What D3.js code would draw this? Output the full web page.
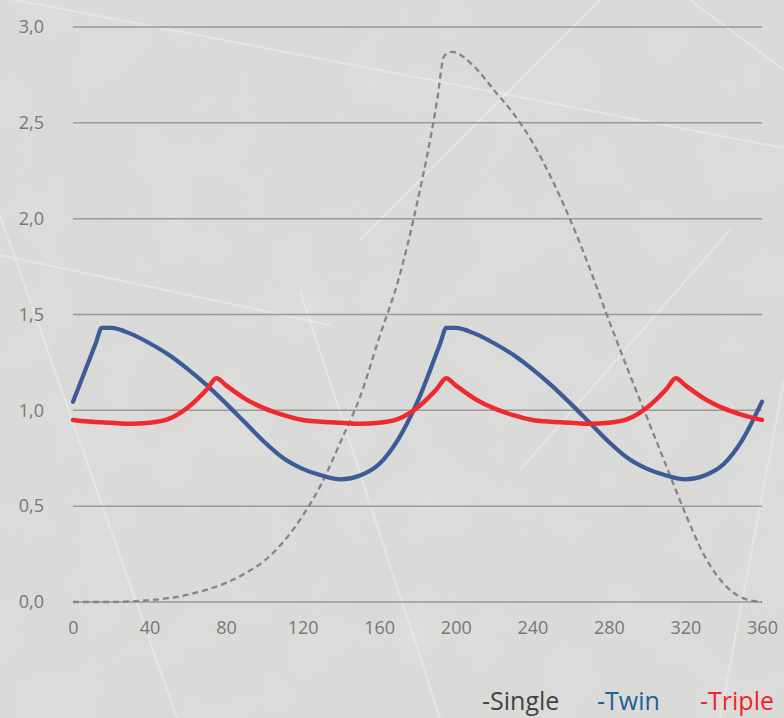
<!DOCTYPE html>
<html>
<head>
<meta charset="utf-8">
<script src="https://cdn.jsdelivr.net/npm/d3@7"></script>
<style>
  html, body { margin: 0; padding: 0; background: #d9d9d7; }
  svg { display: block; }
</style>
</head>
<body>
<svg width="784" height="718"></svg>
<script>
// values (crank angle in degrees)
var singleX = [0, 10, 20, 30, 40, 50, 60, 70, 80, 90, 100, 110, 120, 130, 140, 150, 160, 170, 180, 190, 194, 198, 210, 220, 230, 240, 250, 260, 270, 280, 290, 300, 310, 320, 330, 340, 350, 360];
var singleY = [0, 0, 0, 0.003, 0.01, 0.02, 0.038, 0.065, 0.1, 0.15, 0.215, 0.315, 0.45, 0.62, 0.84, 1.07, 1.38, 1.68, 2.09, 2.6, 2.85, 2.87, 2.79, 2.67, 2.55, 2.4, 2.21, 1.99, 1.74, 1.47, 1.21, 0.96, 0.71, 0.46, 0.24, 0.095, 0.02, 0];

var twinX = [0, 12, 15, 20, 30, 40, 50, 60, 70, 80, 90, 100, 110, 120, 130, 140, 150, 160, 170, 180, 192, 195, 200, 210, 220, 230, 240, 250, 260, 270, 280, 290, 300, 310, 320, 330, 340, 350, 360];
var twinY = [1.045, 1.353, 1.43, 1.43, 1.4, 1.35, 1.29, 1.215, 1.13, 1.035, 0.935, 0.835, 0.75, 0.695, 0.66, 0.64, 0.66, 0.72, 0.85, 1.045, 1.353, 1.43, 1.43, 1.4, 1.35, 1.29, 1.215, 1.13, 1.035, 0.935, 0.835, 0.75, 0.695, 0.66, 0.64, 0.66, 0.72, 0.85, 1.045];

var tripleX = [0, 10, 20, 30, 40, 50, 60, 70, 75, 80, 90, 100, 110, 120, 130, 140, 150, 160, 170, 180, 190, 195, 200, 210, 220, 230, 240, 250, 260, 270, 280, 290, 300, 310, 315, 320, 330, 340, 350, 360];
var tripleY = [0.95, 0.94, 0.935, 0.93, 0.935, 0.955, 1.015, 1.11, 1.167, 1.13, 1.06, 1.01, 0.975, 0.95, 0.94, 0.935, 0.93, 0.935, 0.955, 1.015, 1.11, 1.167, 1.13, 1.06, 1.01, 0.975, 0.95, 0.94, 0.935, 0.93, 0.935, 0.955, 1.015, 1.11, 1.167, 1.13, 1.06, 1.01, 0.975, 0.95];

var xTicks = [0, 40, 80, 120, 160, 200, 240, 280, 320, 360];
var yTicks = [0, 0.5, 1, 1.5, 2, 2.5, 3];
var legendNames = ["-Single", "-Twin", "-Triple"];

var svg = d3.select("svg");
var W = 784, H = 718;

// ---- background: mottled grey with a few scratches
var defs = svg.append("defs");
var f = defs.append("filter").attr("id", "mottle").attr("x", 0).attr("y", 0).attr("width", "100%").attr("height", "100%");
f.append("feTurbulence").attr("type", "fractalNoise").attr("baseFrequency", "0.015").attr("numOctaves", 3).attr("seed", 7);
f.append("feColorMatrix").attr("type", "matrix")
  .attr("values", "0 0 0 0 1  0 0 0 0 1  0 0 0 0 1  0 0 0 0.9 -0.3");

svg.append("rect").attr("width", W).attr("height", H).attr("fill", "#d9d9d7");
svg.append("rect").attr("width", W).attr("height", H).attr("filter", "url(#mottle)").attr("opacity", 0.25);

var scratches = [
  [[0, 255], [330, 325]], [[0, 215], [177, 718]], [[300, 290], [440, 718]],
  [[360, 240], [600, 0]], [[520, 470], [730, 230]], [[0, -3], [784, 148]],
  [[784, 380], [720, 718]], [[690, 0], [784, 70]]
];
svg.append("g").selectAll("line").data(scratches).enter().append("line")
  .attr("x1", function(d){ return d[0][0]; }).attr("y1", function(d){ return d[0][1]; })
  .attr("x2", function(d){ return d[1][0]; }).attr("y2", function(d){ return d[1][1]; })
  .attr("stroke", "#f2f2f0").attr("stroke-width", 2).attr("opacity", 0.45);

// ---- scales
var x = d3.scaleLinear().domain([0, 360]).range([73, 762]);
var y = d3.scaleLinear().domain([0, 3]).range([602, 27]);

// gridlines
svg.append("g").selectAll("line").data(yTicks).enter().append("line")
  .attr("x1", x(0)).attr("x2", x(360))
  .attr("y1", function(d){ return y(d); }).attr("y2", function(d){ return y(d); })
  .attr("stroke", "#999").attr("stroke-width", 1.5);

var fontFam = "'Open Sans', 'Noto Sans', sans-serif";

// y axis labels
var yAxis = d3.axisLeft(y).tickValues(yTicks).tickSize(0).tickPadding(0)
  .tickFormat(function(d){ return d3.format(".1f")(d).replace(".", ","); });
var gy = svg.append("g").attr("transform", "translate(44,0)").call(yAxis);
gy.select(".domain").remove();
gy.selectAll("text").attr("fill", "#777").style("font-family", fontFam).style("font-size", "18px");

// x axis labels
var xAxis = d3.axisBottom(x).tickValues(xTicks).tickSize(0).tickPadding(0);
var gx = svg.append("g").attr("transform", "translate(0,621)").call(xAxis);
gx.select(".domain").remove();
gx.selectAll("text").attr("fill", "#777").style("font-family", fontFam).style("font-size", "18px");

// ---- lines
function pts(xs, ys){ return xs.map(function(v, i){ return [v, ys[i]]; }); }
var line = d3.line().x(function(d){ return x(d[0]); }).y(function(d){ return y(d[1]); }).curve(d3.curveMonotoneX);

svg.append("path").attr("d", line(pts(singleX, singleY)))
  .attr("fill", "none").attr("stroke", "#858585").attr("stroke-width", 2.3)
  .attr("stroke-dasharray", "6,4");

svg.append("path").attr("d", line(pts(twinX, twinY)))
  .attr("fill", "none").attr("stroke", "#3c5c97").attr("stroke-width", 4.2)
  .attr("stroke-linejoin", "round").attr("stroke-linecap", "round");

svg.append("path").attr("d", line(pts(tripleX, tripleY)))
  .attr("fill", "none").attr("stroke", "#ee2a2e").attr("stroke-width", 4.5)
  .attr("stroke-linejoin", "round").attr("stroke-linecap", "round");

// ---- legend
var legendX = [482, 597, 700];
var legendCol = ["#444444", "#1c6194", "#f0262c"];
svg.append("g").selectAll("text").data(legendNames).enter().append("text")
  .attr("x", function(d, i){ return legendX[i]; }).attr("y", 710)
  .attr("fill", function(d, i){ return legendCol[i]; })
  .style("font-family", fontFam).style("font-size", "25px")
  .text(function(d){ return d; });
</script>
</body>
</html>
